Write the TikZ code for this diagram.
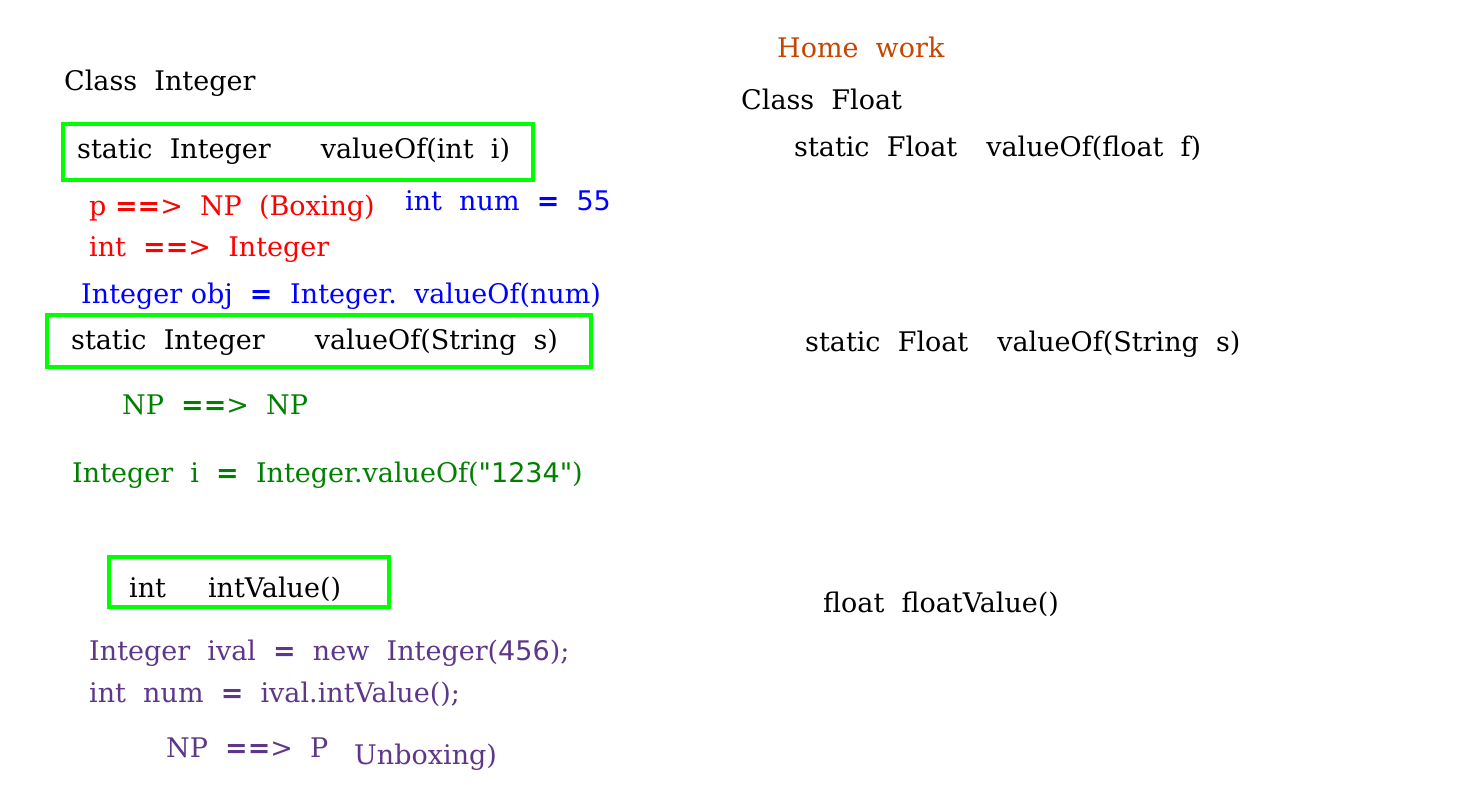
\documentclass[tikz,border=0pt]{standalone}
\usepackage{fontspec}
\setmainfont{DejaVu Serif}
\newfontfamily\symfont{DejaVu Sans}
\newcommand{\eqs}{{\symfont\bfseries =}}
\newcommand{\digs}[1]{{\symfont #1}}
\definecolor{boxgreen}{RGB}{0,255,0}
\definecolor{codegreen}{RGB}{0,128,0}
\definecolor{codepurple}{RGB}{94,54,138}
\definecolor{hwbrown}{RGB}{197,70,0}

\begin{document}
\begin{tikzpicture}[x=1pt,y=-1pt,
    txt/.style={anchor=base west, inner sep=0pt, font=\fontsize{27}{31}\selectfont},
    codebox/.style={draw=boxgreen, line width=4pt}]

    \useasboundingbox (0,0) rectangle (1481,794);

    % Integer side
    \node[txt] (clsint) at (64,91) {Class\ \ Integer};

    \draw[codebox] (63,124) rectangle (533,180);
    \node[txt] (valint) at (77,159) {static\ \ Integer\hspace{50pt}valueOf(int\ \ i)};
    \node[txt, red] (boxing) at (89,216) {p\ \eqs\eqs>\ \ NP\ \ (Boxing)};
    \node[txt, blue] (num) at (405,211) {int\ \ num\ \ \eqs\ \ \digs{55}};
    \node[txt, red] (intint) at (89,257) {int\ \ \eqs\eqs>\ \ Integer};
    \node[txt, blue] (obj) at (81,304) {Integer\ obj\ \ \eqs};
    \node[txt, blue] (objval) at (290,304) {Integer.\ \ valueOf(num)};

    \draw[codebox] (47,315) rectangle (591,367);
    \node[txt] (valstr) at (71,349) {static\ \ Integer\hspace{50pt}valueOf(String\ \ s)};
    \node[txt, codegreen] (npnp) at (122,414) {NP\ \ \eqs\eqs>\ \ NP};
    \node[txt, codegreen] (parse) at (72,482) {Integer\ \ i\ \ \eqs\ \ Integer.valueOf(\digs{\char34 1234\char34})};

    \draw[codebox] (109,557) rectangle (389,607);
    \node[txt] (intval) at (129,597) {int\hspace{42pt}intValue()};
    \node[txt, codepurple] (ival) at (89,660) {Integer\ \ ival\ \ \eqs\ \ new\ \ Integer(\digs{456});};
    \node[txt, codepurple] (inum) at (89,702) {int\ \ num\ \ \eqs\ \ ival.intValue();};
    \node[txt, codepurple] (npp) at (166,757) {NP\ \ \eqs\eqs>\ \ P};
    \node[txt, codepurple] (unbox) at (354,764) {Unboxing)};

    % Float side
    \node[txt, hwbrown] (hw) at (777,58) {Home\ \ work};
    \node[txt] (clsflt) at (741,110) {Class\ \ Float};
    \node[txt] (valflt) at (794,157) {static\ \ Float\hspace{29pt}valueOf(float\ \ f)};
    \node[txt] (valfstr) at (805,352) {static\ \ Float\hspace{29pt}valueOf(String\ \ s)};
    \node[txt] (fltval) at (823,612) {float\ \ floatValue()};

\end{tikzpicture}
\end{document}
